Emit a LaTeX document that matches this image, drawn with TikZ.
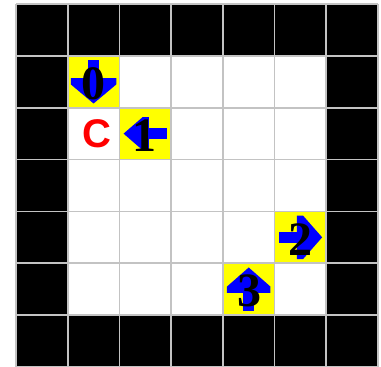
\documentclass[tikz,border=0pt]{standalone}
\usepackage{fontspec}
\setmainfont{Liberation Serif}
\newfontfamily\sansbold{Liberation Sans Bold}
\definecolor{gridgray}{RGB}{195,195,195}
\definecolor{cellyellow}{RGB}{255,255,0}
\definecolor{arrowblue}{RGB}{0,0,255}
\definecolor{labelred}{RGB}{255,0,0}
\tikzset{
  gridline/.style={draw=gridgray, line width=1.8pt},
  wallcell/.style={fill=black},
  markcell/.style={fill=cellyellow},
  digit/.style={inner sep=0pt, text=black, font=\fontsize{48}{48}\selectfont\bfseries},
  clabel/.style={inner sep=0pt, text=labelred, font=\sansbold\fontsize{40}{40}\selectfont},
  pics/blockarrow/.style={code={
    \fill[arrowblue] (-0.42,-0.11) rectangle (0,0.11);
    \fill[arrowblue] (-0.07,#1) -- (0.05,#1) -- (0.42,0) -- (0.05,-#1) -- (-0.07,-#1) -- cycle;
  }}
}
\begin{document}
\begin{tikzpicture}[x=51.714pt,y=51.857pt]
\begin{scope}[shift={(16pt,0pt)}]
\useasboundingbox (-16pt,0pt) rectangle (365pt,367pt);
% cells
\fill[wallcell] (0,0) rectangle (7,7);
\fill[white] (1,1) rectangle (6,6);
\fill[markcell] (1,5) rectangle (2,6);
\fill[markcell] (2,4) rectangle (3,5);
\fill[markcell] (5,2) rectangle (6,3);
\fill[markcell] (4,1) rectangle (5,2);
% grid
\draw[gridline] (0,0) grid[xstep=1,ystep=1] (7,7);
% arrows
\pic[rotate=270] at (1.5,5.5) {blockarrow=0.44};
\pic[rotate=180] at (2.5,4.5) {blockarrow=0.32};
\pic[rotate=0] at (5.5,2.5) {blockarrow=0.42};
\pic[rotate=90] at (4.5,1.5) {blockarrow=0.42};
% labels
\node[digit] (d0) at (1.49,5.47) {0};
\node[digit] (d1) at (2.49,4.47) {1};
\node[digit] (d2) at (5.51,2.45) {2};
\node[digit] (d3) at (4.52,1.47) {3};
\node[clabel] (c) at (1.565,4.5) {C};
\end{scope}
\end{tikzpicture}
\end{document}
